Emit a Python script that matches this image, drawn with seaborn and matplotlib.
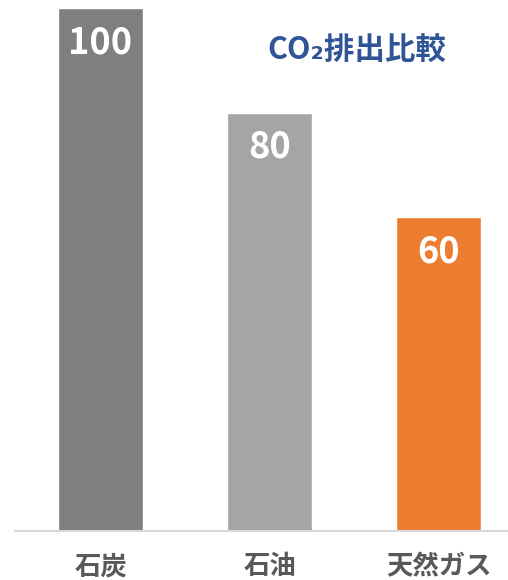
import matplotlib
matplotlib.use("Agg")
import matplotlib.pyplot as plt
import seaborn as sns
import pandas as pd

# data
categories = ["石炭", "石油", "天然ガス"]
emissions = [100, 80, 60]
bar_colors = ["#7F7F7F", "#A5A5A5", "#ED7D31"]
title_text = "CO₂排出比較"

sns.set_style("white")
plt.rcParams['font.family'] = ['Noto Sans CJK JP', 'DejaVu Sans']

df = pd.DataFrame({"fuel": categories, "co2": emissions})

fig = plt.figure(figsize=(5.08, 5.80), dpi=100)
# axes placed so that baseline sits at y=531px and 100 at y=8px
ax = fig.add_axes([15 / 508, 49 / 580, 493 / 508, 523 / 580])

sns.barplot(data=df, x="fuel", y="co2", hue="fuel", palette=bar_colors,
            legend=False, width=0.503, ax=ax, saturation=1)

ax.set_ylim(0, 100)
ax.set_xlim(-0.506, 2.41)
ax.set_xlabel("")
ax.set_ylabel("")
ax.set_yticks([])

for s in ["top", "right", "left"]:
    ax.spines[s].set_visible(False)
ax.spines["bottom"].set_color("#D9D9D9")
ax.spines["bottom"].set_linewidth(1.5)

ax.tick_params(axis="x", length=0, pad=16)
for lbl in ax.get_xticklabels():
    lbl.set_fontsize(19)
    lbl.set_fontweight("bold")
    lbl.set_color("#595959")

# value labels inside bar tops
for i, v in enumerate(emissions):
    ax.annotate(str(v), xy=(i, v), xytext=(0, -25), textcoords="offset points",
                ha="center", va="center", fontsize=26, fontweight="bold",
                color="white")

fig.text(357 / 508, 1 - 50 / 580, title_text, ha="center", va="center",
         fontsize=22, fontweight="bold", color="#2F5597")

fig.savefig("out.png", dpi=100)
